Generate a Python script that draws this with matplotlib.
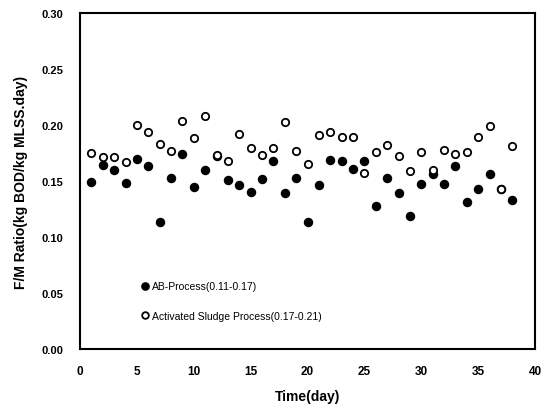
import matplotlib
matplotlib.use('Agg')
import matplotlib.pyplot as plt

plt.rcParams['font.family'] = ['Liberation Sans Narrow', 'Liberation Sans', 'DejaVu Sans']

days = list(range(1, 39))

# AB-Process (filled)
ab = [0.149, 0.164, 0.160, 0.148, 0.170, 0.163, 0.113, 0.153, 0.174, 0.145,
      0.160, 0.172, 0.151, 0.146, 0.140, 0.152, 0.168, 0.139, 0.153, 0.113,
      0.146, 0.169, 0.168, 0.161, 0.168, 0.128, 0.153, 0.139, 0.119, 0.147,
      0.156, 0.147, 0.163, 0.131, 0.143, 0.156, 0.143, 0.133]

# Activated Sludge Process (open)
asp = [0.175, 0.171, 0.171, 0.167, 0.200, 0.194, 0.183, 0.177, 0.204, 0.188,
       0.208, 0.173, 0.168, 0.192, 0.179, 0.173, 0.179, 0.203, 0.177, 0.165,
       0.191, 0.194, 0.189, 0.189, 0.157, 0.176, 0.182, 0.172, 0.159, 0.176,
       0.160, 0.178, 0.174, 0.176, 0.189, 0.199, 0.143, 0.181]

ab_label = 'AB-Process(0.11-0.17)'
asp_label = 'Activated Sludge Process(0.17-0.21)'

fig = plt.figure(figsize=(5.41, 4.14), dpi=100)
ax = fig.add_axes([0.148, 0.155, 0.841, 0.811])

ax.plot(days, ab, 'o', color='black', markersize=5.8, label=ab_label, zorder=2)
ax.plot(days, asp, 'o', markerfacecolor='white', markeredgecolor='black',
        markeredgewidth=1.3, markersize=5.3, label=asp_label, zorder=3)

ax.set_xlim(0, 40)
ax.set_ylim(0, 0.30)
ax.set_xticks(range(0, 41, 5))
ax.set_yticks([0.0, 0.05, 0.10, 0.15, 0.20, 0.25, 0.30])
ax.set_yticklabels(['0.00', '0.05', '0.10', '0.15', '0.20', '0.25', '0.30'])
ax.tick_params(axis='y', length=0, labelsize=8, pad=12)
ax.tick_params(axis='x', length=0, labelsize=8.5, pad=12)
for lab in ax.get_xticklabels() + ax.get_yticklabels():
    lab.set_fontweight('bold')
for s in ax.spines.values():
    s.set_linewidth(1.5)

ax.set_xlabel('Time(day)', fontsize=10, fontweight='bold', labelpad=8)
ax.set_ylabel('F/M Ratio(kg BOD/kg MLSS.day)', fontsize=10, fontweight='bold', labelpad=10)

ax.legend(loc='lower left', bbox_to_anchor=(0.11, 0.055), frameon=False,
          fontsize=7.5, handletextpad=0.2, labelspacing=1.9, handlelength=1,
          markerscale=0.9)

fig.savefig('out.png', dpi=100)
